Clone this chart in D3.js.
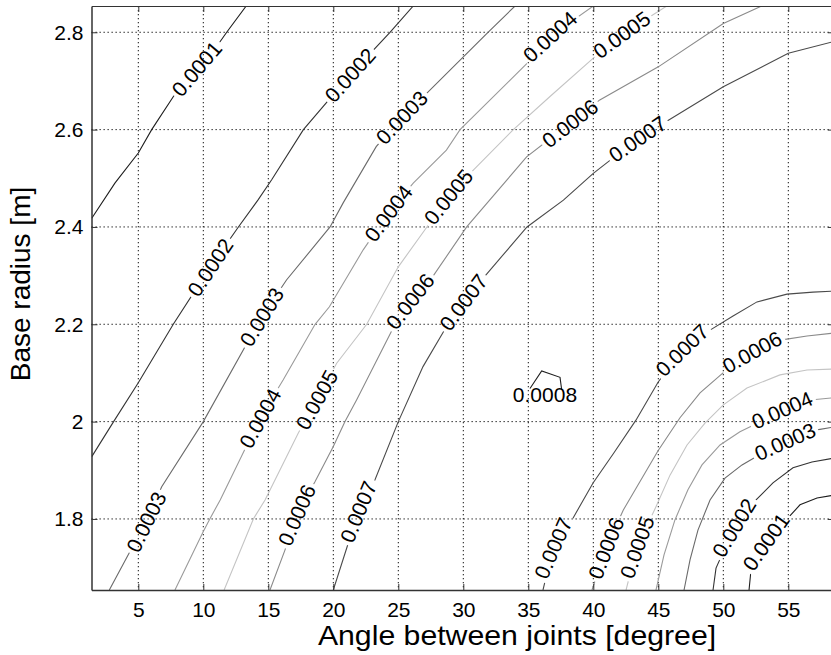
<!DOCTYPE html>
<html>
<head>
<meta charset="utf-8">
<script src="https://cdn.jsdelivr.net/npm/d3@7"></script>
<style>
    body { margin: 0; background: #fff; }
    svg { display: block; font-family: "Liberation Sans", Arial, Helvetica, sans-serif; }
</style>
</head>
<body>
<div id="chart"></div>
<script>
// tick values
const xTicks = [5, 10, 15, 20, 25, 30, 35, 40, 45, 50, 55];
const yTicks = [1.8, 2, 2.2, 2.4, 2.6, 2.8];
const levels = [0.0001, 0.0002, 0.0003, 0.0004, 0.0005, 0.0006, 0.0007, 0.0008];

// contour lines: [angle (deg), base radius (m)]
const left0001 = [[1.42, 2.418], [3.2, 2.49], [5, 2.552], [6.03, 2.6], [7.7, 2.668], [9.49, 2.725], [11.3, 2.781], [11.8, 2.8], [13.3, 2.854]];
const left0002 = [[1.42, 1.928], [3.1, 2.0], [5, 2.08], [7.69, 2.2], [10.52, 2.317], [12.7, 2.4], [14.2, 2.455], [15.26, 2.497], [17.7, 2.6], [21.28, 2.712], [24.36, 2.8], [26.15, 2.854]];
const left0003 = [[2.77, 1.654], [4.36, 1.733], [5.6, 1.794], [6.8, 1.866], [10.0, 2.0], [14.49, 2.215], [16.4, 2.291], [19.75, 2.4], [20.77, 2.45], [23.3, 2.565], [25.26, 2.625], [27.2, 2.675], [31.9, 2.8], [33.98, 2.854]];
const left0004 = [[7.82, 1.654], [10.0, 1.774], [10.5, 1.8], [11.3, 1.839], [14.36, 2.007], [16.15, 2.086], [18.6, 2.2], [19.7, 2.236], [22.3, 2.353], [24.23, 2.428], [26.15, 2.49], [28.7, 2.558], [29.75, 2.6], [34.9, 2.736], [36.67, 2.791], [40.0, 2.854]];
const left0005 = [[11.6, 1.654], [13.85, 1.8], [14.75, 1.839], [17.3, 1.976], [18.72, 2.045], [20.26, 2.12], [22.57, 2.2], [25, 2.318], [27.2, 2.4], [28.85, 2.462], [30.77, 2.517], [33.85, 2.6], [36.67, 2.668], [40.0, 2.747], [42.18, 2.795], [45.65, 2.854]];
const left0006 = [[15.13, 1.654], [16.28, 1.736], [17.18, 1.808], [18.6, 1.877], [20, 1.949], [20.9, 2.0], [21.8, 2.045], [24.75, 2.2], [25.9, 2.247], [27.57, 2.295], [30.26, 2.4], [34.87, 2.544], [38.21, 2.613], [40.5, 2.661], [45, 2.729], [50, 2.818], [52.95, 2.854]];
const left0007 = [[20.0, 1.654], [21.15, 1.75], [21.92, 1.815], [23.2, 1.88], [25.0, 2.0], [26.9, 2.113], [28.7, 2.195], [30.0, 2.245], [31.5, 2.294], [34.9, 2.4], [37.7, 2.455], [40, 2.51], [43.4, 2.581], [45.65, 2.617], [50, 2.688], [55, 2.757], [58.5, 2.781]];
const peak0008 = [[35.13, 2.068], [36.03, 2.104], [37.44, 2.091], [37.57, 2.065]];
const right0007 = [[36.13, 1.654], [36.9, 1.74], [38.36, 1.798], [39.98, 1.874], [41.59, 1.936], [43.28, 2.003], [44.98, 2.081], [46.82, 2.147], [48.98, 2.188], [50.75, 2.217], [52.59, 2.246], [54.9, 2.262], [56.9, 2.266], [58.5, 2.268]];
const right0006 = [[39.9, 1.654], [40.98, 1.74], [42.3, 1.818], [44.98, 1.94], [46.67, 2.008], [48.21, 2.059], [49.98, 2.1], [52.21, 2.143], [54.52, 2.168], [56.44, 2.176], [58.5, 2.182]];
const right0005 = [[42.52, 1.654], [43.36, 1.742], [44.82, 1.825], [45.9, 1.89], [47.21, 1.952], [48.59, 1.997], [49.98, 2.034], [51.82, 2.069], [54.36, 2.096], [56.44, 2.106], [58.5, 2.108]];
const right0004 = [[44.82, 1.654], [45.44, 1.726], [46.28, 1.798], [47.28, 1.86], [48.36, 1.911], [49.75, 1.952], [51.28, 1.979], [52.82, 1.999], [54.52, 2.024], [56.9, 2.045], [58.5, 2.049]];
const right0003 = [[46.98, 1.654], [47.44, 1.716], [48.05, 1.777], [48.98, 1.839], [50.13, 1.884], [51.44, 1.911], [52.59, 1.929], [54.75, 1.959], [57.21, 1.983], [58.5, 1.989]];
const right0002 = [[49.21, 1.654], [49.44, 1.699], [50.82, 1.782], [52.52, 1.839], [53.82, 1.874], [55.36, 1.905], [56.82, 1.917], [58.5, 1.925]];
const right0001 = [[51.98, 1.654], [52.13, 1.695], [53.28, 1.753], [54.98, 1.802], [55.9, 1.829], [57.21, 1.843], [58.5, 1.849]];

// inline labels: [level, angle, radius]
const contourLabels = [
    [0.0001, 9.49, 2.725], [0.0001, 53.28, 1.753],
    [0.0002, 21.28, 2.712], [0.0002, 10.52, 2.317], [0.0002, 50.82, 1.782],
    [0.0003, 25.26, 2.625], [0.0003, 14.49, 2.215], [0.0003, 5.6, 1.794], [0.0003, 54.75, 1.959],
    [0.0004, 36.67, 2.791], [0.0004, 24.23, 2.428], [0.0004, 14.36, 2.007], [0.0004, 54.52, 2.024],
    [0.0005, 42.18, 2.795], [0.0005, 28.85, 2.462], [0.0005, 18.72, 2.045], [0.0005, 43.36, 1.742],
    [0.0006, 38.21, 2.613], [0.0006, 25.9, 2.247], [0.0006, 17.18, 1.808], [0.0006, 40.98, 1.74], [0.0006, 52.21, 2.143],
    [0.0007, 43.4, 2.581], [0.0007, 30.0, 2.245], [0.0007, 21.92, 1.815], [0.0007, 36.9, 1.74], [0.0007, 46.82, 2.147],
    [0.0008, 36.28, 2.055]
];

const contourLines = [
    {level: 0.0001, points: left0001}, {level: 0.0002, points: left0002},
    {level: 0.0003, points: left0003}, {level: 0.0004, points: left0004},
    {level: 0.0005, points: left0005}, {level: 0.0006, points: left0006},
    {level: 0.0007, points: left0007}, {level: 0.0008, points: peak0008},
    {level: 0.0007, points: right0007}, {level: 0.0006, points: right0006},
    {level: 0.0005, points: right0005}, {level: 0.0004, points: right0004},
    {level: 0.0003, points: right0003}, {level: 0.0002, points: right0002},
    {level: 0.0001, points: right0001}
];

// jet colormap printed in grey
const lineColor = d3.scaleOrdinal()
    .domain(levels)
    .range(["#1e1e1e", "#333", "#6a6a6a", "#9a9a9a", "#c4c4c4", "#8a8a8a", "#4a4a4a", "#1e1e1e"]);

const width = 831, height = 655;
const svg = d3.select("#chart").append("svg")
    .attr("width", width)
    .attr("height", height);

const x = d3.scaleLinear().domain([1.4, 58.5]).range([91.5, 833.8]);
const y = d3.scaleLinear().domain([1.654, 2.854]).range([590, 6]);

const defs = svg.append("defs");
defs.append("clipPath").attr("id", "plotClip")
    .append("rect")
    .attr("x", x.range()[0]).attr("y", y.range()[1])
    .attr("width", x.range()[1] - x.range()[0])
    .attr("height", y.range()[0] - y.range()[1]);
const mask = defs.append("mask").attr("id", "labelMask")
    .attr("maskUnits", "userSpaceOnUse")
    .attr("x", 0).attr("y", 0).attr("width", width).attr("height", height);
mask.append("rect").attr("width", width).attr("height", height).attr("fill", "#fff");

// grid
const grid = svg.append("g").attr("stroke", "#111").attr("stroke-width", 1)
    .attr("stroke-dasharray", "1.3,2.7");
grid.selectAll(".gx").data(xTicks).enter().append("line")
    .attr("x1", d => x(d)).attr("x2", d => x(d))
    .attr("y1", y.range()[1]).attr("y2", y.range()[0]);
grid.selectAll(".gy").data(yTicks).enter().append("line")
    .attr("y1", d => y(d)).attr("y2", d => y(d))
    .attr("x1", x.range()[0]).attr("x2", x.range()[1]);

// contour lines
const line = d3.line().x(d => x(d[0])).y(d => y(d[1]));
const lineGroup = svg.append("g")
    .attr("clip-path", "url(#plotClip)")
    .append("g")
    .attr("mask", "url(#labelMask)");
const paths = lineGroup.selectAll("path").data(contourLines).enter().append("path")
    .attr("d", d => line(d.points))
    .attr("fill", "none")
    .attr("stroke", d => lineColor(d.level))
    .attr("stroke-width", 1.1);

// direction of a contour line near a label
function labelAngle(level, px, py) {
    let best = null;
    paths.each(function (d) {
        if (d.level !== level) return;
        const total = this.getTotalLength();
        for (let s = 0; s <= total; s += 1) {
            const p = this.getPointAtLength(s);
            const dist = (p.x - px) * (p.x - px) + (p.y - py) * (p.y - py);
            if (!best || dist < best.dist) best = {dist: dist, node: this, s: s, total: total};
        }
    });
    const a = best.node.getPointAtLength(Math.max(0, best.s - 25));
    const b = best.node.getPointAtLength(Math.min(best.total, best.s + 25));
    let ang = Math.atan2(b.y - a.y, b.x - a.x) * 180 / Math.PI;
    if (ang > 90) ang -= 180;
    if (ang < -90) ang += 180;
    return ang;
}

const fmt = d3.format(".4f");
const labelGroup = svg.append("g");
contourLabels.forEach(function (d) {
    const px = x(d[1]), py = y(d[2]);
    const flat = d[0] === 0.0008;
    const ang = flat ? 0 : labelAngle(d[0], px, py);
    const t = labelGroup.append("text")
        .attr("transform", "translate(" + px + "," + py + ") rotate(" + ang + ")")
        .attr("text-anchor", "middle")
        .attr("dy", "0.36em")
        .attr("font-size", "21px")
        .attr("fill", "#000")
        .text(fmt(d[0]));
    if (!flat) {
        const w = t.node().getComputedTextLength() + 6;
        mask.append("rect")
            .attr("x", -w / 2).attr("y", -9).attr("width", w).attr("height", 18)
            .attr("fill", "#000")
            .attr("transform", "translate(" + px + "," + py + ") rotate(" + ang + ")");
    }
});

// axes
const axisStyle = function (g) {
    g.select(".domain").attr("stroke", "#333").attr("stroke-width", 1.5);
    g.selectAll(".tick line").attr("stroke", "#333");
    g.selectAll("text").attr("font-size", "21px").attr("fill", "#000")
        .attr("font-family", "Liberation Sans, Arial, sans-serif");
};
svg.append("g")
    .attr("transform", "translate(0," + y.range()[0] + ")")
    .call(d3.axisBottom(x).tickValues(xTicks).tickSizeInner(-6).tickSizeOuter(0).tickPadding(12))
    .call(axisStyle);
svg.append("g")
    .attr("transform", "translate(" + x.range()[0] + ",0)")
    .call(d3.axisLeft(y).tickValues(yTicks).tickFormat(d3.format("~g")).tickSizeInner(-6).tickSizeOuter(0).tickPadding(8))
    .call(axisStyle);
svg.append("g")
    .attr("transform", "translate(0," + y.range()[1] + ")")
    .call(d3.axisTop(x).tickValues(xTicks).tickSizeInner(-6).tickSizeOuter(0).tickFormat(""))
    .call(axisStyle)
    .select(".domain").attr("stroke-width", 1);
svg.append("g")
    .attr("transform", "translate(" + x.range()[1] + ",0)")
    .call(d3.axisRight(y).tickValues(yTicks).tickSizeInner(-6).tickSizeOuter(0).tickFormat(""))
    .call(axisStyle);

// axis titles
svg.append("text")
    .attr("transform", "translate(517,645) scale(1.08,1)")
    .attr("text-anchor", "middle")
    .attr("font-size", "28px")
    .text("Angle between joints [degree]");
svg.append("text")
    .attr("transform", "translate(30,284) rotate(-90)")
    .attr("text-anchor", "middle")
    .attr("font-size", "28px")
    .text("Base radius [m]");
</script>
</body>
</html>
